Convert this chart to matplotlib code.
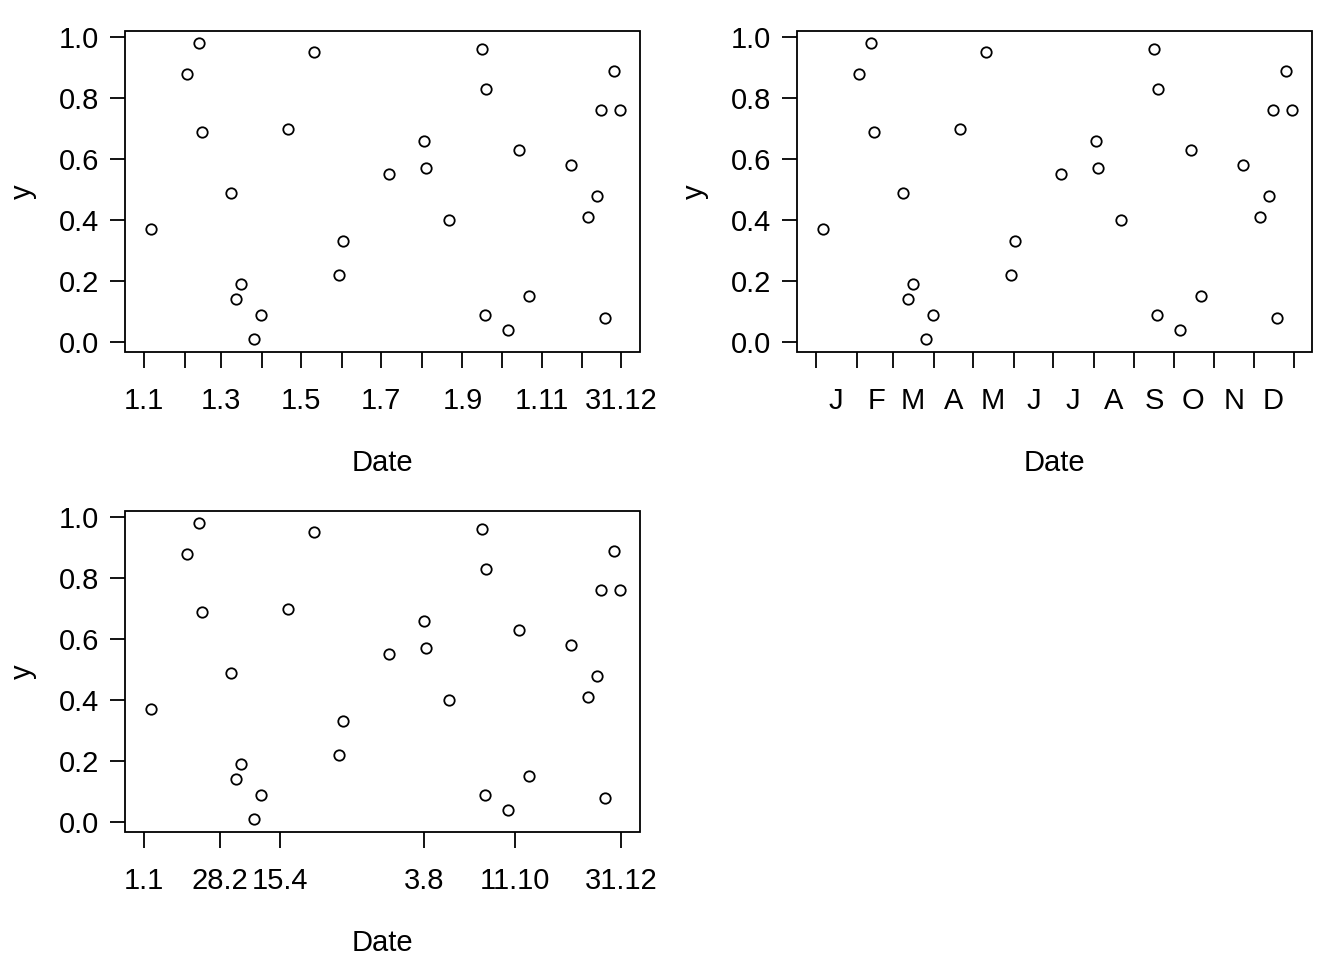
import datetime as dt
import matplotlib
matplotlib.use("Agg")
import matplotlib.pyplot as plt
from matplotlib.patches import Rectangle

plt.rcParams["font.family"] = ["Liberation Sans", "DejaVu Sans"]
plt.rcParams["font.size"] = 21

# values
dates = ["2023-01-06", "2023-02-03", "2023-02-12", "2023-02-14", "2023-03-08",
         "2023-03-12", "2023-03-16", "2023-03-26", "2023-03-31", "2023-04-21",
         "2023-05-11", "2023-05-30", "2023-06-02", "2023-07-07", "2023-08-03",
         "2023-08-04", "2023-08-22", "2023-09-16", "2023-09-18", "2023-09-19",
         "2023-10-06", "2023-10-14", "2023-10-22", "2023-11-23", "2023-12-06",
         "2023-12-13", "2023-12-16", "2023-12-19", "2023-12-26", "2023-12-30"]
yvals = [0.37, 0.88, 0.98, 0.69, 0.49, 0.14, 0.19, 0.01, 0.09, 0.70,
         0.95, 0.22, 0.33, 0.55, 0.66, 0.57, 0.40, 0.96, 0.09, 0.83,
         0.04, 0.63, 0.15, 0.58, 0.41, 0.48, 0.76, 0.08, 0.89, 0.76]
first_ticks = ["2023-01-01", "2023-02-01", "2023-03-01", "2023-04-01",
               "2023-05-01", "2023-06-01", "2023-07-01", "2023-08-01",
               "2023-09-01", "2023-10-01", "2023-11-01", "2023-12-01",
               "2023-12-31"]
first_labels = ["1.1", "", "1.3", "", "1.5", "", "1.7", "", "1.9", "",
                "1.11", "", "31.12"]
month_labels = ["J", "F", "M", "A", "M", "J", "J", "A", "S", "O", "N", "D"]
third_ticks = ["2023-01-01", "2023-02-28", "2023-04-15", "2023-08-03",
               "2023-10-11", "2023-12-31"]
third_labels = ["1.1", "28.2", "15.4", "3.8", "11.10", "31.12"]

x = [dt.datetime.fromisoformat(d) for d in dates]
start = dt.datetime(2023, 1, 1)
end = dt.datetime(2023, 12, 31)
span = end - start
xlim = (start - span * 0.04, end + span * 0.04)

W, H = 1344, 960
fig = plt.figure(figsize=(13.44, 9.6), dpi=100)


def make_axes(l, t, r, b):
    ax = fig.add_axes([l / W, 1 - b / H, (r - l) / W, (b - t) / H])
    ax.plot(x, yvals, "o", mfc="none", mec="black", ms=7.5, mew=1.3)
    ax.set_xlim(xlim)
    ax.set_ylim(-0.033, 1.02)
    for s in ax.spines.values():
        s.set_visible(False)
    ax.add_patch(Rectangle((0, 0), 1, 1, transform=ax.transAxes, fill=False,
                           lw=1.3, clip_on=False))
    ax.set_yticks([0, 0.2, 0.4, 0.6, 0.8, 1.0])
    ax.set_yticklabels(["0.0", "0.2", "0.4", "0.6", "0.8", "1.0"])
    ax.tick_params(axis="y", length=10.5, width=1.3, pad=8)
    ax.tick_params(axis="x", which="major", length=11.5, width=1.3, pad=14)
    ax.set_xlabel("Date", labelpad=24)
    ax.set_ylabel("y", labelpad=16)
    return ax


def to_dt(lst):
    return [dt.datetime.fromisoformat(d) for d in lst]


ax1 = make_axes(125, 31, 640, 352)
ax1.set_xticks(to_dt(first_ticks))
ax1.set_xticklabels(first_labels)

ax2 = make_axes(797, 31, 1312, 352)
mstarts = [dt.datetime(2023, m, 1) for m in range(1, 13)] + [dt.datetime(2024, 1, 1)]
ax2.set_xticks(mstarts)
ax2.set_xticklabels([])
mids = [dt.datetime(2023, m, 16) for m in range(1, 13)]
ax2.set_xticks(mids, minor=True)
ax2.set_xticklabels(month_labels, minor=True)
ax2.tick_params(axis="x", which="minor", length=0, pad=25.5)

ax3 = make_axes(125, 511, 640, 832)
ax3.set_xticks(to_dt(third_ticks))
ax3.set_xticklabels(third_labels)

fig.savefig("out.png", dpi=100)
